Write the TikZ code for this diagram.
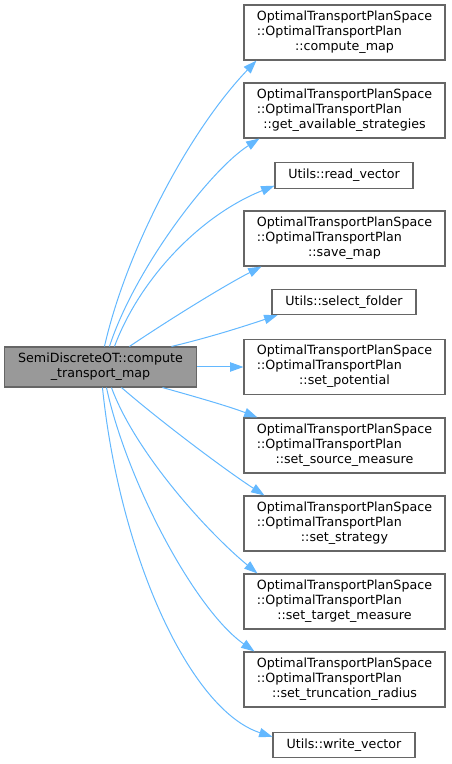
\documentclass[tikz,border=0pt]{standalone}
\usepackage{fontspec}
\setmainfont{DejaVu Sans}
\usetikzlibrary{arrows.meta}

\definecolor{linkblue}{HTML}{63B8FF}
\definecolor{boxgray}{HTML}{666666}
\definecolor{srcgray}{HTML}{999999}

\newcommand{\otplabel}[1]{\begin{tabular}{@{}l@{}}OptimalTransportPlanSpace\\
  ::OptimalTransportPlan\\ \multicolumn{1}{@{}c@{}}{::#1}\end{tabular}}

\begin{document}
\begin{tikzpicture}[x=0.75pt,y=0.75pt,
    font=\fontsize{9.5}{11.25}\selectfont,
    box/.style={draw=boxgray,line width=0.8pt,fill=white,inner sep=0pt},
    callee/.style={box,minimum width=150.75pt,minimum height=41.25pt},
    leaf/.style={box,minimum width=#1,minimum height=19pt},
    caller/.style={box,fill=srcgray,minimum width=144pt,minimum height=30pt},
    link/.style={draw=linkblue,line width=0.75pt,
      -{Triangle[length=10pt,width=7pt]}}]
  \useasboundingbox (0,0) rectangle (451,764);
  % caller on the left
  \node[caller] (src) at (100.5,397)
    {\begin{tabular}{@{}l@{}}SemiDiscreteOT::compute\\
      \multicolumn{1}{@{}c@{}}{\_transport\_map}\end{tabular}};
  % callees, top to bottom
  \node[callee] (cmap) at (344.5,731.5) {\otplabel{compute\_map}};
  \node[callee] (gas) at (344.5,653.5) {\otplabel{get\_available\_strategies}};
  \node[leaf=103.5pt] (rvec) at (344,588.5) {Utils::read\_vector};
  \node[callee] (smap) at (344.5,525.5) {\otplabel{save\_map}};
  \node[leaf=108pt] (sfold) at (344,462) {Utils::select\_folder};
  \node[callee] (spot) at (344.5,397) {\otplabel{set\_potential}};
  \node[callee] (ssrc) at (344.5,318.5) {\otplabel{set\_source\_measure}};
  \node[callee] (sstrat) at (344.5,240.5) {\otplabel{set\_strategy}};
  \node[callee] (stgt) at (344.5,162.5) {\otplabel{set\_target\_measure}};
  \node[callee] (strunc) at (344.5,84.5) {\otplabel{set\_truncation\_radius}};
  \node[leaf=106.5pt] (wvec) at (344,19) {Utils::write\_vector};
  % calls leaving the top of the caller
  \draw[link] ([shift={(100.5,0)}]src.north west) .. controls +(22,97) and +(-67,-70) .. ([shift={(13,0)}]cmap.south west);
  \draw[link] ([shift={(105.5,0)}]src.north west) .. controls +(25,77) and +(-50,-32) .. ([shift={(16,0)}]gas.south west);
  \draw[link] ([shift={(110.5,0)}]src.north west) .. controls +(25,67) and +(-75,-30) .. ([shift={(0,3)}]rvec.south west);
  \draw[link] ([shift={(125.5,0)}]src.north west) .. controls +(40,27) and +(-37,-19) .. ([shift={(18,0)}]smap.south west);
  \draw[link] ([shift={(167.5,0)}]src.north west) .. controls +(38,9) and +(-33,-11) .. ([shift={(6,0)}]sfold.south west);
  \draw[link] (src.east) -- (spot.west);
  % calls leaving the bottom of the caller
  \draw[link] ([shift={(158.5,0)}]src.south west) .. controls +(32,-9) and +(-28,11) .. ([shift={(14,0)}]ssrc.north west);
  \draw[link] ([shift={(117.5,0)}]src.south west) .. controls +(38,-33) and +(-40,26) .. ([shift={(21,0)}]sstrat.north west);
  \draw[link] ([shift={(107.5,0)}]src.south west) .. controls +(23,-63) and +(-53,44) .. ([shift={(14,0)}]stgt.north west);
  \draw[link] ([shift={(102.5,0)}]src.south west) .. controls +(20,-93) and +(-60,42) .. ([shift={(11,0)}]strunc.north west);
  \draw[link] ([shift={(98.5,0)}]src.south west) .. controls +(17,-167) and +(-83,27) .. ([shift={(0,-5)}]wvec.north west);
\end{tikzpicture}
\end{document}
